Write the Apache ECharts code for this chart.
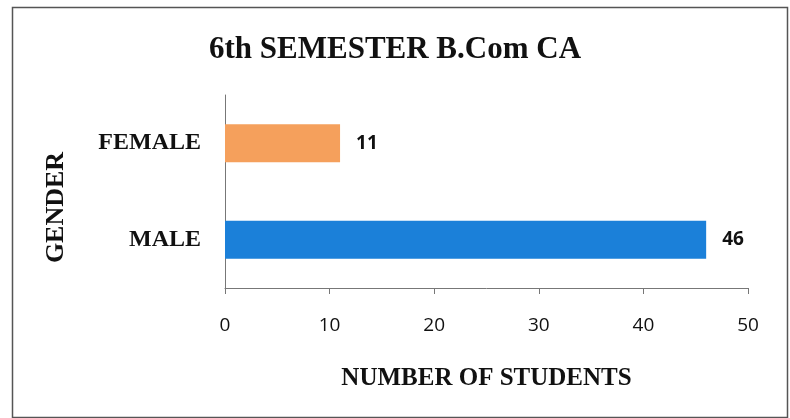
<!DOCTYPE html>
<html><head><meta charset="utf-8">
<script src="https://cdn.jsdelivr.net/npm/echarts@6/dist/echarts.min.js"></script>
<style>html,body{margin:0;padding:0;background:#fff}#c{width:790px;height:418px}</style>
</head><body><div id="c"></div>
<script>
var categories = ['MALE', 'FEMALE'];
var values = [46, 11];
var barColors = ['#1B80D9', '#F5A05C'];
var xTicks = [0, 10, 20, 30, 40, 50];

var chart = echarts.init(document.getElementById('c'), null, {renderer: 'canvas'});
chart.setOption({
  backgroundColor: '#fff',
  animation: false,
  title: {
    text: '6th SEMESTER B.Com CA',
    left: 'center', top: 29,
    textStyle: {fontFamily: 'Liberation Serif', fontWeight: 'bold', fontSize: 31, color: '#111'}
  },
  graphic: [{
    type: 'rect', left: 10, top: 5,
    shape: {width: 775, height: 410},
    style: {fill: 'none', stroke: '#555', lineWidth: 1.5}
  }],
  grid: {left: 225, right: 42, top: 95, bottom: 130},
  xAxis: {
    type: 'value', min: xTicks[0], max: xTicks[xTicks.length - 1], interval: 10,
    name: 'NUMBER OF STUDENTS', nameLocation: 'middle', nameGap: 78,
    nameTextStyle: {fontFamily: 'Liberation Serif', fontWeight: 'bold', fontSize: 25, color: '#111'},
    axisLine: {show: true, lineStyle: {color: '#777', width: 1}},
    axisTick: {show: true, length: 6, inside: false, lineStyle: {color: '#777'}},
    axisLabel: {margin: 28, fontFamily: 'Open Sans', fontSize: 19, color: '#111'},
    splitLine: {show: false}
  },
  yAxis: {
    type: 'category', data: categories,
    name: 'GENDER', nameLocation: 'middle', nameGap: 156,
    nameTextStyle: {fontFamily: 'Liberation Serif', fontWeight: 'bold', fontSize: 26, color: '#111', padding: [0, 32, 0, 0]},
    axisLine: {show: true, lineStyle: {color: '#777', width: 1}},
    axisTick: {show: false},
    axisLabel: {margin: 24, fontFamily: 'Liberation Serif', fontWeight: 'bold', fontSize: 24, color: '#111'}
  },
  series: [{
    type: 'bar', barWidth: 38,
    data: values.map(function (v, i) { return {value: v, itemStyle: {color: barColors[i]}}; }),
    label: {show: true, position: 'right', distance: 16, fontFamily: 'Open Sans', fontWeight: 'bold', fontSize: 19, color: '#111'}
  }]
});
</script></body></html>
